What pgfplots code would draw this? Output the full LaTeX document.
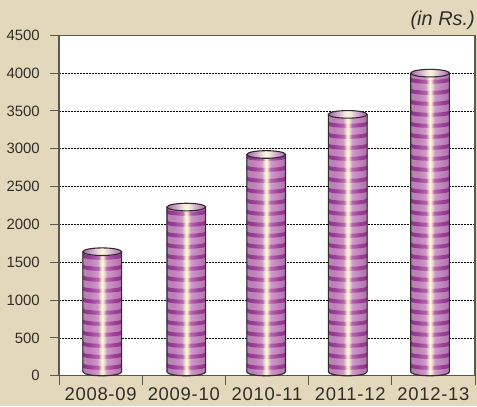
\documentclass[border=0pt]{standalone}
\usepackage{pgfplots}
\pgfplotsset{compat=1.18}
\usepackage{fontspec}
\setmainfont{Liberation Sans}
\newfontfamily\xlab[LetterSpace=4]{Liberation Sans}
\definecolor{bgc}{HTML}{E3D8BC}
\definecolor{axc}{HTML}{5A574C}
\definecolor{txt}{HTML}{302E2A}
\definecolor{lineC}{HTML}{332A30}
\definecolor{la}{HTML}{B088B0}
\definecolor{lb}{HTML}{C07FB8}
\definecolor{lc}{HTML}{CE9AC8}
\definecolor{ld}{HTML}{F7EAD0}
\definecolor{le}{HTML}{FCF8DC}
\definecolor{lf}{HTML}{A974AC}
\definecolor{da}{HTML}{8A3589}
\definecolor{db}{HTML}{9C4098}
\definecolor{dc}{HTML}{B466AA}
\definecolor{dd}{HTML}{F0DCC8}
\definecolor{de}{HTML}{FAF2D8}
\definecolor{ca}{HTML}{A86CA8}
\definecolor{cb}{HTML}{D4AED0}
\definecolor{cc}{HTML}{F2E6D8}
\definecolor{cd}{HTML}{FBF6DC}
\pgfdeclarehorizontalshading{lightbody}{100bp}{
 color(0bp)=(la); color(25bp)=(la); color(33bp)=(lb); color(44bp)=(lc);
 color(48.5bp)=(ld); color(50bp)=(le); color(51.5bp)=(ld); color(56bp)=(lc);
 color(67bp)=(lb); color(75bp)=(lf); color(100bp)=(lf)}
\pgfdeclarehorizontalshading{darkbody}{100bp}{
 color(0bp)=(da); color(25bp)=(da); color(35bp)=(db); color(45bp)=(dc);
 color(48.5bp)=(dd); color(50bp)=(de); color(51.5bp)=(dd); color(55bp)=(dc);
 color(65bp)=(db); color(75bp)=(da); color(100bp)=(da)}
\pgfdeclarehorizontalshading{capshade}{100bp}{
 color(0bp)=(ca); color(25bp)=(ca); color(38bp)=(cb); color(46bp)=(cc);
 color(50bp)=(cd); color(54bp)=(cc); color(62bp)=(cb); color(75bp)=(ca); color(100bp)=(ca)}
% one cylinder, standing on the axis, its top at the data point
\pgfdeclareplotmark{cyl}{%
 \pgfmathsetmacro{\hh}{\barval/4500*340.5}%
 \pgfmathsetmacro{\bb}{4-\hh}%
 \begin{scope}[x=1bp,y=1bp]
  \begin{scope}
   \clip (-19.35,\bb) arc[start angle=180,end angle=360,x radius=19.35,y radius=4] -- (19.35,0) -- (-19.35,0) -- cycle;
   \shade[shading=lightbody,draw=none] (-19.35,-\hh-1) rectangle (19.35,0);
   \foreach \k in {0,...,30}{
    \pgfmathsetmacro{\yy}{-\hh+8.5+11*\k}
    \path[shading=darkbody,draw=none] (-19.35,\yy) arc[start angle=180,end angle=360,x radius=19.35,y radius=2.5]
      -- ++(0,4) arc[start angle=360,end angle=180,x radius=19.35,y radius=2.5] -- cycle;
   }
  \end{scope}
  \draw[lineC,line width=1.1bp] (-19.35,0) -- (-19.35,\bb) arc[start angle=180,end angle=360,x radius=19.35,y radius=4] -- (19.35,0);
  \path[shading=capshade,draw=lineC,line width=1.1bp] (0,0) ellipse [x radius=19.35,y radius=3.8];
 \end{scope}}
\begin{document}
\begin{tikzpicture}[x=1bp,y=1bp]
\fill[bgc] (0,0) rectangle (477,406);
\useasboundingbox (0,0) rectangle (477,406);
\begin{axis}[
 at={(59bp,30.2bp)},anchor=south west,
 scale only axis,width=416bp,height=340.5bp,
 xmin=0.5,xmax=5.5,ymin=0,ymax=4500,
 axis background/.style={fill=white},
 axis line style={axc,line width=1.2bp},
 xtick={1,2,3,4,5},
 xticklabels={2008-09,2009-10,2010-11,2011-12,2012-13},
 minor xtick={0.5,1.5,2.5,3.5,4.5,5.5},
 ytick={0,500,...,4500},
 xtick pos=bottom,ytick pos=left,
 tick align=outside,
 major tick length=9bp,
 minor tick length=9bp,
 tick style={axc,line width=1bp},
 xtick style={draw=none},
 minor x tick style={axc,line width=1bp,draw=axc},
 ymajorgrids,
 grid style={black,line width=0.8bp,dash pattern=on 2bp off 1bp},
 scaled y ticks=false,
 /pgf/number format/assume math mode=true,
 /pgf/number format/1000 sep={},
 yticklabel style={font=\fontsize{15}{16}\selectfont,text=txt,inner sep=0pt,xshift=-10bp},
 xticklabel style={font=\xlab\fontsize{18.5}{19}\selectfont,text=txt,inner sep=0pt,yshift=-3bp},
 clip=false,
]
\addplot[scatter,only marks,mark=cyl,
 visualization depends on={y \as \barval},
 scatter/@pre marker code/.code={},
 scatter/@post marker code/.code={}]
 coordinates {(1.02,1640) (2.03,2230) (2.99,2925) (3.97,3455) (4.96,4000)};
\node[anchor=base east,font=\fontsize{20}{22}\selectfont\itshape,text=txt,inner sep=0pt] at (rel axis cs:1,1) [yshift=10bp] {(in Rs.)};
\end{axis}
\end{tikzpicture}
\end{document}
